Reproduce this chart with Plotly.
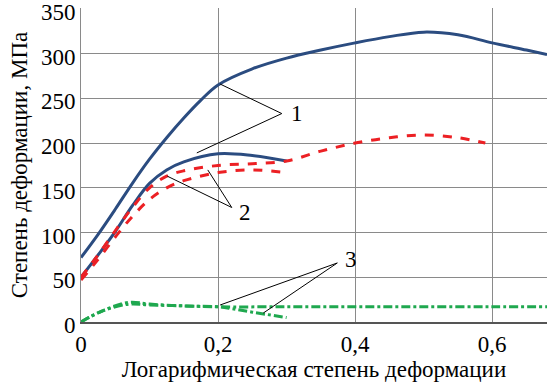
import plotly.graph_objects as go

# --- data ---
x_1a = [0, 0.025, 0.05, 0.075, 0.1, 0.125, 0.15, 0.175, 0.2, 0.25, 0.3, 0.35, 0.4, 0.45, 0.5, 0.55, 0.6, 0.65, 0.68]
y_1a = [72, 98, 126, 155, 182, 206, 228, 248, 265, 283, 295, 304, 312, 319, 324, 321, 312, 304, 299]

x_1b = [0, 0.025, 0.05, 0.075, 0.1, 0.125, 0.15, 0.2, 0.25, 0.3]
y_1b = [50, 75, 101, 130, 155, 170, 179, 188, 186, 180]

x_2a = [0, 0.025, 0.05, 0.075, 0.1, 0.125, 0.15, 0.2, 0.25, 0.3, 0.35, 0.4, 0.45, 0.5, 0.55, 0.59]
y_2a = [50, 75, 102, 128, 150, 163, 169, 175, 177, 180, 191, 200, 206, 209, 206, 200]

x_2b = [0, 0.025, 0.05, 0.075, 0.1, 0.125, 0.15, 0.2, 0.25, 0.3]
y_2b = [47, 70, 95, 118, 137, 150, 158, 167, 170, 167]

x_3a = [0, 0.03, 0.07, 0.1, 0.15, 0.2, 0.3, 0.4, 0.5, 0.6, 0.68]
y_3a = [0, 12, 20, 19, 18, 17, 17, 17, 17, 17, 17]

x_3b = [0, 0.03, 0.07, 0.1, 0.15, 0.2, 0.22, 0.25, 0.3]
y_3b = [0, 12, 22, 20, 18, 17, 15, 11, 5]

x_ticks = [0, 0.2, 0.4, 0.6]
x_ticktext = ["0", "0,2", "0,4", "0,6"]
y_ticks = [0, 50, 100, 150, 200, 250, 300, 350]

labels = ["1", "2", "3"]

BLUE = "#2b4c80"
RED = "#ec2024"
GREEN = "#1fa84f"
SERIF = "Liberation Serif, Times New Roman, serif"

fig = go.Figure()
for xs, ys in [(x_1a, y_1a), (x_1b, y_1b)]:
    fig.add_trace(go.Scatter(x=xs, y=ys, mode="lines", line=dict(color=BLUE, width=3, shape="spline"), showlegend=False))
for xs, ys in [(x_2a, y_2a), (x_2b, y_2b)]:
    fig.add_trace(go.Scatter(x=xs, y=ys, mode="lines", line=dict(color=RED, width=3, dash="dash", shape="spline"), showlegend=False))
for xs, ys in [(x_3a, y_3a), (x_3b, y_3b)]:
    fig.add_trace(go.Scatter(x=xs, y=ys, mode="lines", line=dict(color=GREEN, width=3, dash="dashdot", shape="spline"), showlegend=False))

# leader lines (apex -> curve points)
leaders = [
    ((0.293, 233), [(0.203, 266), (0.169, 189)]),
    ((0.220, 128), [(0.185, 170), (0.126, 163)]),
    ((0.374, 66), [(0.203, 19), (0.266, 10)]),
]
label_pos = [(0.303, 233), (0.228, 122), (0.382, 70)]
for (apex, ends), lab, lp in zip(leaders, labels, label_pos):
    for e in ends:
        fig.add_shape(type="line", xref="x", yref="y", x0=apex[0], y0=apex[1], x1=e[0], y1=e[1],
                      line=dict(color="black", width=1))
    fig.add_annotation(x=lp[0], y=lp[1], text=lab, showarrow=False, xanchor="left",
                       font=dict(family=SERIF, size=23, color="black"))

fig.update_layout(
    width=548, height=389,
    margin=dict(l=81, r=1, t=8, b=67),
    paper_bgcolor="white", plot_bgcolor="white",
    font=dict(family=SERIF, size=23, color="black"),
    xaxis=dict(range=[0, 0.68], tickvals=x_ticks, ticktext=x_ticktext, showgrid=True,
               gridcolor="#8a8a8a", gridwidth=1, zeroline=False, showline=True, automargin=False,
               linecolor="#555555", linewidth=2, ticks="", tickfont=dict(size=23),
               title=dict(text="Логарифмическая степень деформации", font=dict(size=23), standoff=4)),
    yaxis=dict(range=[0, 351], tickvals=y_ticks, showgrid=True, gridcolor="#8a8a8a", gridwidth=1,
               zeroline=False, showline=True, linecolor="#8a8a8a", linewidth=1, ticks="",
               automargin=False, tickfont=dict(size=23), ticklabeloverflow="allow",
               ticklabelshift=3,
               title=dict(text="Степень деформации, МПа", font=dict(size=23), standoff=6)),
)
fig.write_html("out.html", config={"displayModeBar": False},
               post_script="document.body.style.margin='0';")
